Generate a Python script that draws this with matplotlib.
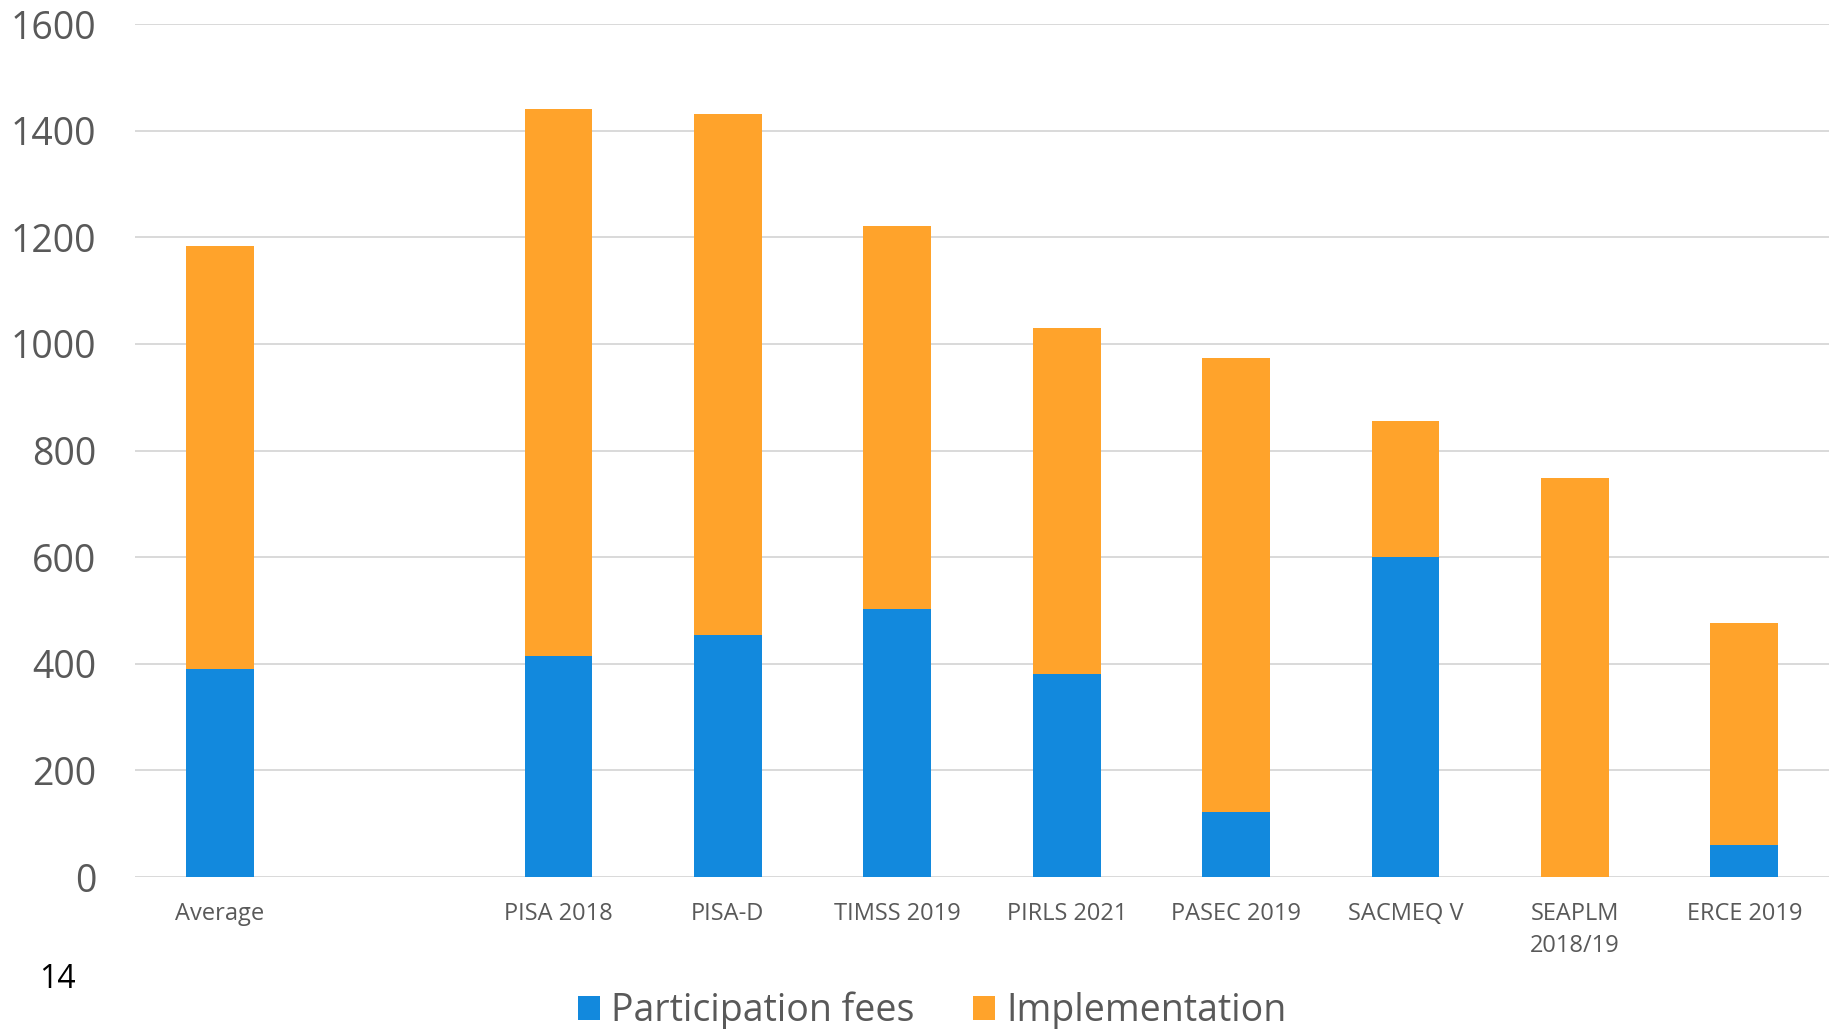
import numpy as np
import matplotlib
matplotlib.use("Agg")
import matplotlib.pyplot as plt
from matplotlib.patches import Patch

plt.rcParams['font.family'] = ['Open Sans', 'DejaVu Sans']

categories = ["Average", "", "PISA 2018", "PISA-D", "TIMSS 2019", "PIRLS 2021",
              "PASEC 2019", "SACMEQ V", "SEAPLM\n2018/19", "ERCE 2019"]
participation_fees = [390, 0, 415, 453, 503, 381, 121, 600, 0, 60]
implementation = [794, 0, 1026, 979, 718, 649, 852, 255, 748, 416]
y_ticks = [0, 200, 400, 600, 800, 1000, 1200, 1400, 1600]
series_names = ["Participation fees", "Implementation"]

BLUE = "#1289DD"
ORANGE = "#FFA32B"
GRID = "#D9D9D9"
TXT = "#595959"

fig = plt.figure(figsize=(18.35, 10.29), dpi=100)
ax = fig.add_axes([135/1835, 1 - 877/1029, (1829-135)/1835, (877-24)/1029])

x = np.arange(len(categories))
ax.bar(x, participation_fees, width=0.4, color=BLUE, zorder=3)
ax.bar(x, implementation, width=0.4, bottom=participation_fees, color=ORANGE, zorder=3)

ax.set_xlim(-0.5, len(categories) - 0.5)
ax.set_ylim(0, 1600)
ax.set_yticks(y_ticks)
ax.set_yticklabels([str(v) for v in y_ticks])
ax.set_xticks(x)
ax.set_xticklabels(categories, linespacing=1.45)
ax.yaxis.grid(True, color=GRID, linewidth=1.4, zorder=0)
ax.set_axisbelow(True)
for s in ax.spines.values():
    s.set_visible(False)
ax.tick_params(axis='y', length=0, pad=28, labelsize=27, labelcolor=TXT)
ax.tick_params(axis='x', length=0, pad=18, labelsize=17, labelcolor=TXT)

handles = [Patch(facecolor=BLUE, edgecolor='none'), Patch(facecolor=ORANGE, edgecolor='none')]
leg = fig.legend(handles, series_names, loc='center', bbox_to_anchor=(0.508, 1 - 1011/1029),
                 ncol=2, frameon=False, fontsize=27, handlelength=0.6, handleheight=0.6,
                 handletextpad=0.3, columnspacing=1.55, borderpad=0)
for t in leg.get_texts():
    t.set_color(TXT)

fig.text(39/1835, 1 - 979/1029, "14", fontsize=23, color="#000000", va='center', ha='left')

fig.savefig("out.png", dpi=100)
